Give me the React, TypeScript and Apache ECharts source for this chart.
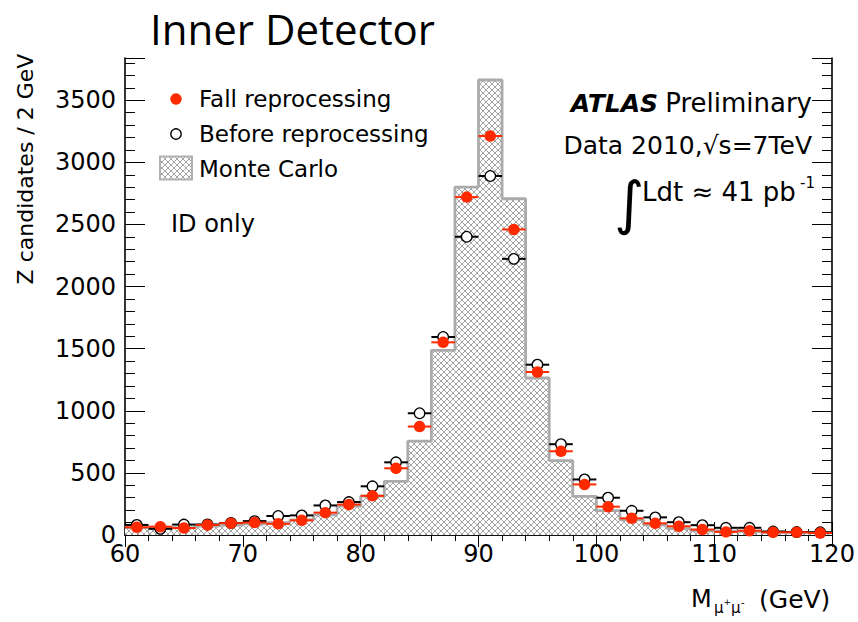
import React, { useEffect, useRef } from 'react';
import * as echarts from 'echarts';

// ---- data ----
const binCenters = [61, 63, 65, 67, 69, 71, 73, 75, 77, 79, 81, 83, 85, 87, 89, 91, 93, 95, 97, 99, 101, 103, 105, 107, 109, 111, 113, 115, 117, 119];
const BIN_HALF = 1;
const fallReprocessing = [62, 67, 56, 81, 95, 100, 90, 118, 180, 245, 315, 537, 873, 1551, 2720, 3212, 2460, 1312, 674, 407, 228, 134, 94, 70, 44, 25, 35, 22, 22, 16];
const beforeReprocessing = [81, 50, 84, 85, 97, 112, 153, 158, 238, 265, 392, 585, 980, 1594, 2401, 2890, 2223, 1371, 731, 447, 300, 195, 142, 103, 79, 58, 58, 28, 24, 22];
const monteCarlo = [60, 60, 62, 72, 80, 90, 100, 121, 163, 232, 314, 432, 755, 1486, 2801, 3663, 2707, 1264, 599, 311, 197, 121, 81, 51, 34, 30, 28, 22, 20, 18];
const xMin = 60;
const xMax = 120;
const xStep = 10;
const yMax = 3840;
const yStep = 500;
const yMinorStep = 100;

const RED = '#ff2a00';
const FONT = 'DejaVu Sans';

function makeHatch() {
  const s = 6;
  const c = document.createElement('canvas');
  c.width = s;
  c.height = s;
  const ctx = c.getContext('2d')!;
  ctx.fillStyle = '#ffffff';
  ctx.fillRect(0, 0, s, s);
  ctx.fillStyle = '#a4a4a4';
  for (let i = 0; i < s; i++) {
    ctx.fillRect(i, i, 1, 1);
    ctx.fillRect(s - 1 - i, i, 1, 1);
  }
  return { image: c.toDataURL(), repeat: 'repeat', imageWidth: s, imageHeight: s };
}

function hBars(values: number[], color: string, z: number) {
  return {
    type: 'custom',
    silent: true,
    z,
    data: values.map((v, i) => [binCenters[i], v]),
    encode: { x: 0, y: 1 },
    renderItem: (_p: any, api: any) => {
      const a = api.coord([api.value(0) - BIN_HALF, api.value(1)]);
      const b = api.coord([api.value(0) + BIN_HALF, api.value(1)]);
      return {
        type: 'line',
        shape: { x1: a[0], y1: a[1], x2: b[0], y2: b[1] },
        style: { stroke: color, lineWidth: 2 },
      };
    },
  };
}

export default function App() {
  const ref = useRef<HTMLDivElement>(null);

  useEffect(() => {
    if (!ref.current) return;
    const chart = echarts.init(ref.current, undefined, { renderer: 'svg' });
    const hatch = makeHatch();

    const mcStep = monteCarlo.map((v, i) => [binCenters[i] - BIN_HALF, v]);
    mcStep.push([binCenters[binCenters.length - 1] + BIN_HALF, monteCarlo[monteCarlo.length - 1]]);

    const axisLine = { show: true, lineStyle: { color: '#000', width: 1.6 } };
    const tickStyle = { color: '#000', width: 1 };

    const xBase = (pos: string, showLabel: boolean, major: number, minor: number) => ({
      type: 'value',
      position: pos,
      min: xMin,
      max: xMax,
      interval: xStep,
      axisLine,
      axisTick: { show: true, inside: true, length: major, lineStyle: tickStyle },
      minorTick: { show: true, splitNumber: 5, length: minor, lineStyle: tickStyle },
      axisLabel: {
        show: showLabel,
        color: '#000',
        fontFamily: FONT,
        fontSize: 24,
        margin: 7,
      },
      splitLine: { show: false },
      minorSplitLine: { show: false },
    });

    const yBase = (pos: string, interval: number, len: number, showLabel: boolean, showLine: boolean) => ({
      type: 'value',
      position: pos,
      min: 0,
      max: yMax,
      interval,
      axisLine: showLine ? axisLine : { show: false },
      axisTick: { show: true, inside: true, length: len, lineStyle: tickStyle },
      axisLabel: {
        show: showLabel,
        color: '#000',
        fontFamily: FONT,
        fontSize: 24,
        margin: 9,
        formatter: (v: number) => (v % yStep === 0 ? String(v) : ''),
      },
      splitLine: { show: false },
    });

    const text = (t: string, x: number, y: number, size: number, align = 'left', extra: any = {}) => ({
      type: 'text',
      x,
      y,
      silent: true,
      z: 100,
      style: {
        text: t,
        fill: '#000',
        fontFamily: FONT,
        fontSize: size,
        align,
        verticalAlign: 'middle',
        ...extra,
      },
    });

    chart.setOption({
      animation: false,
      backgroundColor: '#ffffff',
      grid: { left: 125, right: 26, top: 58, bottom: 87, containLabel: false },
      xAxis: [xBase('bottom', true, 13, 6), xBase('top', false, 12, 6)],
      yAxis: [
        yBase('left', yStep, 20, true, true),
        yBase('left', yMinorStep, 10, false, false),
        yBase('right', yStep, 20, false, true),
        yBase('right', yMinorStep, 10, false, false),
      ],
      series: [
        {
          type: 'custom',
          name: 'Monte Carlo',
          silent: true,
          z: 1,
          data: monteCarlo.map((v, i) => [binCenters[i] - BIN_HALF, binCenters[i] + BIN_HALF, v]),
          encode: { x: [0, 1], y: 2 },
          renderItem: (_p: any, api: any) => {
            const p0 = api.coord([api.value(0), api.value(2)]);
            const p1 = api.coord([api.value(1), 0]);
            return {
              type: 'rect',
              shape: { x: p0[0], y: p0[1], width: p1[0] - p0[0], height: p1[1] - p0[1] },
              style: { fill: hatch, stroke: null },
            };
          },
        },
        {
          type: 'line',
          step: 'end',
          silent: true,
          z: 2,
          data: mcStep,
          symbol: 'none',
          lineStyle: { color: '#ababab', width: 2.8 },
        },
        hBars(beforeReprocessing, '#000000', 3),
        {
          type: 'scatter',
          name: 'Before reprocessing',
          silent: true,
          z: 4,
          data: binCenters.map((x, i) => [x, beforeReprocessing[i]]),
          symbol: 'circle',
          symbolSize: 10.5,
          itemStyle: { color: '#ffffff', borderColor: '#000000', borderWidth: 1.3, opacity: 1 },
        },
        hBars(fallReprocessing, RED, 5),
        {
          type: 'scatter',
          name: 'Fall reprocessing',
          silent: true,
          z: 6,
          data: binCenters.map((x, i) => [x, fallReprocessing[i]]),
          symbol: 'circle',
          symbolSize: 11.5,
          itemStyle: { color: RED, opacity: 1 },
        },
      ],
      graphic: [
        // title
        {
          type: 'text',
          x: 150,
          y: 28,
          silent: true,
          style: { text: 'Inner Detector', fill: '#000', fontFamily: 'Open Sans', fontSize: 42, align: 'left', verticalAlign: 'middle' },
        },
        // legend
        { type: 'circle', silent: true, z: 100, shape: { cx: 176, cy: 99, r: 5.7 }, style: { fill: RED } },
        { type: 'circle', silent: true, z: 100, shape: { cx: 176, cy: 134, r: 5.2 }, style: { fill: '#fff', stroke: '#000', lineWidth: 1.3 } },
        { type: 'rect', silent: true, z: 100, shape: { x: 160, y: 156.5, width: 32, height: 23 }, style: { fill: hatch, stroke: '#b0b0b0', lineWidth: 2 } },
        text('Fall reprocessing', 199, 99, 23),
        text('Before reprocessing', 199, 134, 23),
        text('Monte Carlo', 199, 169, 23),
        text('ID only', 171, 224, 24),
        // ATLAS label
        text('ATLAS', 658, 103, 25, 'right', { fontWeight: 'bold', fontStyle: 'italic' }),
        text('Preliminary', 812, 103, 26, 'right'),
        text('Data 2010,\u221As=7TeV', 812, 145, 25, 'right'),
        text('\u222B', 629, 203, 58, 'center'),
        text('Ldt \u2248 41 pb', 642, 192, 26),
        text('-1', 800, 183, 15),
        // axis titles
        {
          type: 'text',
          x: 25,
          y: 169,
          rotation: Math.PI / 2,
          silent: true,
          style: { text: 'Z candidates / 2 GeV', fill: '#000', fontFamily: FONT, fontSize: 22, align: 'center', verticalAlign: 'middle' },
        },
        text('M', 691, 599, 24),
        text('\u03BC', 714, 608, 15),
        text('+', 723.5, 602, 9),
        text('\u03BC', 731, 608, 15),
        text('-', 741, 602, 10),
        text('(GeV)', 759, 599, 25),
      ],
    });

    return () => chart.dispose();
  }, []);

  return (
    <div
      ref={ref}
      style={{ position: 'absolute', left: 0, top: 0, width: 858, height: 622, background: '#fff' }}
    />
  );
}
